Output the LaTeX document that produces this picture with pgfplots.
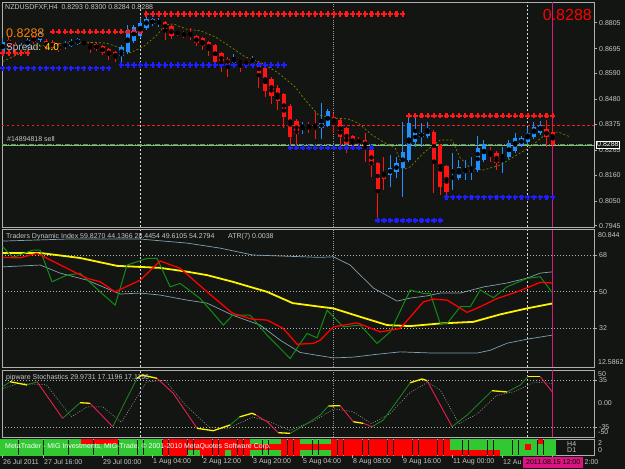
\documentclass[border=0pt]{standalone}
\usepackage{pgfplots}
\pgfplotsset{compat=1.18}
\usepackage{pgfplotstable}
\usepackage{fontspec}
\setmainfont{Liberation Sans}
\definecolor{bg}{RGB}{18,21,17}
\definecolor{txt}{RGB}{200,200,200}
\definecolor{frame}{RGB}{175,175,175}
\definecolor{bull}{RGB}{30,144,255}
\definecolor{bear}{RGB}{255,20,20}
\definecolor{band}{RGB}{130,160,175}
\definecolor{tdigreen}{RGB}{20,140,20}
\definecolor{stgreen}{RGB}{30,125,30}
\definecolor{stred}{RGB}{235,30,75}
\definecolor{olivec}{RGB}{128,128,0}
\definecolor{magline}{RGB}{220,20,130}
\definecolor{stripgreen}{RGB}{50,200,50}
\definecolor{stripred}{RGB}{255,0,0}
\definecolor{dotred}{RGB}{255,25,25}
\definecolor{dotblue}{RGB}{30,30,255}
\definecolor{ordgreen}{RGB}{40,190,40}
\newcommand{\fs}{\fontsize{7}{8}\selectfont}

\pgfplotstableread{
i o h l c
0 0.8681 0.8740 0.8672 0.8723
3 0.8693 0.8719 0.8685 0.8710
4 0.8710 0.8740 0.8702 0.8732
6 0.8732 0.8770 0.8723 0.8761
10 0.8702 0.8727 0.8693 0.8719
11 0.8706 0.8736 0.8702 0.8727
12 0.8715 0.8740 0.8710 0.8736
19 0.8664 0.8710 0.8634 0.8702
20 0.8681 0.8795 0.8672 0.8774
21 0.8727 0.8795 0.8719 0.8787
22 0.8749 0.8825 0.8740 0.8804
23 0.8783 0.8838 0.8774 0.8821
24 0.8800 0.8825 0.8791 0.8819
25 0.8804 0.8825 0.8787 0.8812
37 0.8634 0.8672 0.8630 0.8655
40 0.8634 0.8664 0.8630 0.8651
48 0.8359 0.8384 0.8333 0.8371
51 0.8359 0.8465 0.8312 0.8380
52 0.8367 0.8439 0.8363 0.8431
62 0.8160 0.8244 0.8109 0.8189
63 0.8172 0.8236 0.8147 0.8211
64 0.8189 0.8384 0.8066 0.8257
65 0.8223 0.8405 0.8215 0.8380
66 0.8300 0.8414 0.8278 0.8342
67 0.8321 0.8380 0.8278 0.8338
68 0.8325 0.8384 0.8317 0.8359
72 0.8143 0.8253 0.8096 0.8155
73 0.8147 0.8223 0.8139 0.8194
74 0.8168 0.8223 0.8139 0.8185
75 0.8172 0.8236 0.8139 0.8185
76 0.8181 0.8325 0.8172 0.8274
77 0.8223 0.8308 0.8215 0.8291
80 0.8236 0.8278 0.8168 0.8244
81 0.8236 0.8308 0.8228 0.8295
82 0.8261 0.8338 0.8253 0.8317
83 0.8287 0.8325 0.8278 0.8317
84 0.8300 0.8363 0.8291 0.8338
85 0.8321 0.8384 0.8312 0.8363
86 0.8338 0.8388 0.8329 0.8371
}\bulltab

\pgfplotstableread{
i o h l c
1 0.8732 0.8744 0.8698 0.8706
2 0.8715 0.8723 0.8681 0.8693
5 0.8744 0.8753 0.8715 0.8723
7 0.8727 0.8736 0.8689 0.8702
8 0.8723 0.8732 0.8689 0.8698
9 0.8710 0.8719 0.8681 0.8689
13 0.8723 0.8727 0.8710 0.8715
14 0.8719 0.8723 0.8677 0.8702
15 0.8715 0.8719 0.8685 0.8693
16 0.8706 0.8710 0.8668 0.8677
17 0.8693 0.8698 0.8647 0.8664
18 0.8681 0.8685 0.8638 0.8655
26 0.8808 0.8812 0.8732 0.8774
27 0.8791 0.8795 0.8736 0.8749
28 0.8770 0.8774 0.8749 0.8757
29 0.8766 0.8770 0.8740 0.8749
30 0.8761 0.8783 0.8732 0.8744
31 0.8749 0.8753 0.8706 0.8719
32 0.8740 0.8744 0.8689 0.8706
33 0.8723 0.8727 0.8664 0.8689
34 0.8710 0.8715 0.8630 0.8638
35 0.8677 0.8681 0.8596 0.8634
36 0.8651 0.8660 0.8575 0.8630
38 0.8647 0.8651 0.8596 0.8634
39 0.8643 0.8647 0.8626 0.8630
41 0.8634 0.8638 0.8528 0.8584
42 0.8613 0.8617 0.8491 0.8516
43 0.8567 0.8575 0.8461 0.8495
44 0.8528 0.8541 0.8435 0.8473
45 0.8503 0.8507 0.8359 0.8405
46 0.8452 0.8461 0.8287 0.8321
47 0.8388 0.8397 0.8287 0.8333
49 0.8376 0.8384 0.8338 0.8359
50 0.8367 0.8427 0.8312 0.8355
53 0.8405 0.8422 0.8338 0.8380
54 0.8393 0.8397 0.8283 0.8321
55 0.8359 0.8363 0.8253 0.8291
56 0.8325 0.8329 0.8266 0.8287
57 0.8312 0.8321 0.8287 0.8295
58 0.8308 0.8338 0.8215 0.8278
59 0.8266 0.8270 0.8151 0.8202
60 0.8211 0.8215 0.7969 0.8100
61 0.8172 0.8236 0.8096 0.8143
69 0.8342 0.8350 0.8083 0.8223
70 0.8287 0.8291 0.8075 0.8109
71 0.8198 0.8202 0.8062 0.8088
78 0.8257 0.8278 0.8215 0.8253
79 0.8253 0.8261 0.8181 0.8211
87 0.8355 0.8393 0.8278 0.8321
88 0.8342 0.8371 0.8278 0.8288
}\beartab

\pgfplotstableread{
i a b c
0 0 0 0
1 0 0 0
2 0 0 0
3 0 0 0
4 0 0 0
5 0 0 0
6 0 0 0
7 0 0 0
8 0 0 0
9 0 0 0
10 0 0 0
11 0 0 0
12 0 0 0
13 1 0 0
14 1 0 0
15 1 0 0
16 1 0 0
17 1 0 0
18 1 0 0
19 0 0 0
20 0 0 0
21 0 0 0
22 0 0 0
23 0 0 0
24 0 0 0
25 0 0 0
26 1 1 1
27 1 1 1
28 1 1 1
29 1 1 1
30 1 1 0
31 1 1 0
32 1 1 1
33 1 1 1
34 1 1 1
35 1 1 1
36 1 1 0
37 1 1 1
38 1 1 1
39 1 1 1
40 0 1 0
41 0 1 0
42 0 1 0
43 0 1 0
44 0 1 0
45 1 1 1
46 1 1 1
47 1 1 1
48 0 1 0
49 0 1 0
50 0 1 0
51 0 1 0
52 0 1 0
53 1 1 1
54 1 1 1
55 1 1 1
56 1 1 1
57 1 1 1
58 1 1 1
59 1 1 1
60 1 1 1
61 1 1 1
62 1 1 1
63 1 1 1
64 1 1 1
65 1 1 1
66 1 1 1
67 1 1 1
68 1 1 1
69 1 1 1
70 1 1 1
71 1 1 1
72 0 0 1
73 0 0 1
74 0 0 1
75 0 0 1
76 0 0 1
77 0 0 1
78 0 0 1
79 0 0 1
80 0 0 0
81 0 0 0
82 0 0 0
83 0 0 0
84 0 1 0
85 0 0 0
86 1 0 0
87 0 0 0
88 0 0 0
}\striptab

\pgfplotsset{
  mt/.style={scale only axis, width=592pt, xmin=-0.1, xmax=94.6,
    anchor=north west, axis line style={frame, line width=0.7pt},
    xtick=\empty, ytick pos=right, yticklabel pos=right,
    tick align=outside, major tick length=3pt, tick style={frame, line width=0.5pt},
    yticklabel style={font=\fs, text=txt, inner sep=1pt, xshift=1pt}},
  candle/.style={only marks, mark=none, error bars/.cd, y dir=both, y explicit, error mark=none},
  rowmark/.style={only marks, mark=+, mark size=2.6pt, line width=2.1pt},
  stripmark/.style={scatter, only marks, mark=square*, mark size=2.45pt, point meta=explicit,
    scatter/use mapped color={draw=mapped color, fill=mapped color}}
}
\newcommand{\seps}{%
  \draw[white!85!black, dash pattern=on 2pt off 2pt, line width=0.6pt] ({axis cs:22,0}|-{rel axis cs:0,0}) -- ({axis cs:22,0}|-{rel axis cs:0,1});
  \draw[gray!80!white, dash pattern=on 1pt off 1.2pt, line width=0.9pt] ({axis cs:53,0}|-{rel axis cs:0,0}) -- ({axis cs:53,0}|-{rel axis cs:0,1});
  \draw[white!85!black, dash pattern=on 2pt off 2pt, line width=0.6pt] ({axis cs:84,0}|-{rel axis cs:0,0}) -- ({axis cs:84,0}|-{rel axis cs:0,1});
  \draw[magline, line width=0.8pt] ({axis cs:88,0}|-{rel axis cs:0,0}) -- ({axis cs:88,0}|-{rel axis cs:0,1});
}

\begin{document}
\begin{tikzpicture}
\path[use as bounding box] (0,0) rectangle (625pt,-469pt);
\fill[bg] (0,0) rectangle (625pt,-469pt);

% ---------------- main price panel
\begin{axis}[mt, at={(2pt,-2pt)}, height=225.5pt, ymin=0.79375, ymax=0.88927,
  ytick={0.7945,0.8050,0.8160,0.8265,0.8375,0.8480,0.8590,0.8695,0.8805},
  yticklabels={0.7945,0.8050,0.8160,0.8265,0.8375,0.8480,0.8590,0.8695,0.8805}]
\seps
\draw[dotred, dash pattern=on 2.5pt off 2.5pt, line width=0.6pt] (axis cs:-0.1,0.8371) -- (axis cs:94.6,0.8371);
\draw[gray!70, line width=0.5pt] (axis cs:-0.1,0.8288) -- (axis cs:94.6,0.8288);
\draw[ordgreen, dash pattern=on 5pt off 1.5pt on 1pt off 1.5pt, line width=0.7pt] (axis cs:-0.1,0.8291) -- (axis cs:94.6,0.8291);
% support / resistance dots
\addplot[rowmark, dotred] coordinates {(0,0.8677)(1,0.8677)(2,0.8677)(3,0.8677)(4,0.8677)};
\addplot[rowmark, dotred] coordinates {(8,0.8767)(9,0.8767)(10,0.8767)(11,0.8767)(12,0.8767)(13,0.8767)(14,0.8767)(15,0.8767)(16,0.8767)(17,0.8767)(18,0.8767)(19,0.8767)(20,0.8767)(21,0.8767)(22,0.8767)};
\addplot[rowmark, dotred] coordinates {(23,0.8842)(24,0.8842)(25,0.8842)(26,0.8842)(27,0.8842)(28,0.8842)(29,0.8842)(30,0.8842)(31,0.8842)(32,0.8842)(33,0.8842)(34,0.8842)(35,0.8842)(36,0.8842)(37,0.8842)(38,0.8842)(39,0.8842)(40,0.8842)(41,0.8842)(42,0.8842)(43,0.8842)(44,0.8842)(45,0.8842)(46,0.8842)(47,0.8842)(48,0.8842)(49,0.8842)(50,0.8842)(51,0.8842)(52,0.8842)(53,0.8842)(54,0.8842)(55,0.8842)(56,0.8842)(57,0.8842)(58,0.8842)(59,0.8842)(60,0.8842)(61,0.8842)(62,0.8842)(63,0.8842)(64,0.8842)};
\addplot[rowmark, dotred] coordinates {(65,0.8411)(66,0.8411)(67,0.8411)(68,0.8411)(69,0.8411)(70,0.8411)(71,0.8411)(72,0.8411)(73,0.8411)(74,0.8411)(75,0.8411)(76,0.8411)(77,0.8411)(78,0.8411)(79,0.8411)(80,0.8411)(81,0.8411)(82,0.8411)(83,0.8411)(84,0.8411)(85,0.8411)(86,0.8411)(87,0.8411)(88,0.8411)};
\addplot[rowmark, dotblue] coordinates {(0,0.8612)(1,0.8612)(2,0.8612)(3,0.8612)(4,0.8612)(5,0.8612)(6,0.8612)(7,0.8612)(8,0.8612)(9,0.8612)(10,0.8612)(11,0.8612)(12,0.8612)(13,0.8612)(14,0.8612)(15,0.8612)(16,0.8612)(17,0.8612)};
\addplot[rowmark, dotblue] coordinates {(19,0.8626)(20,0.8626)(21,0.8626)(22,0.8626)(23,0.8626)(24,0.8626)(25,0.8626)(26,0.8626)(27,0.8626)(28,0.8626)(29,0.8626)(30,0.8626)(31,0.8626)(32,0.8626)(33,0.8626)(34,0.8626)(35,0.8626)(36,0.8626)(37,0.8626)(38,0.8626)(39,0.8626)(40,0.8626)(41,0.8626)(42,0.8626)(43,0.8626)(44,0.8626)(45,0.8626)};
\addplot[rowmark, dotblue] coordinates {(46,0.8275)(47,0.8275)(48,0.8275)(49,0.8275)(50,0.8275)(51,0.8275)(52,0.8275)(53,0.8275)(54,0.8275)(55,0.8275)(56,0.8275)(57,0.8275)(58,0.8275)(59,0.8275)};
\addplot[rowmark, dotblue] coordinates {(60,0.7967)(61,0.7967)(62,0.7967)(63,0.7967)(64,0.7967)(65,0.7967)(66,0.7967)(67,0.7967)(68,0.7967)(69,0.7967)(70,0.7967)};
\addplot[rowmark, dotblue] coordinates {(71,0.8065)(72,0.8065)(73,0.8065)(74,0.8065)(75,0.8065)(76,0.8065)(77,0.8065)(78,0.8065)(79,0.8065)(80,0.8065)(81,0.8065)(82,0.8065)(83,0.8065)(84,0.8065)(85,0.8065)(86,0.8065)(87,0.8065)(88,0.8065)};
% moving average (olive dashed)
\addplot[olivec, dash pattern=on 2pt off 2pt, line width=0.7pt, mark=none] coordinates {
(0,0.8640)(2.2,0.8668)(4.85,0.8698)(7.6,0.8715)(12.9,0.8723)(16.5,0.8719)(19.5,0.8693)(20.4,0.8678)(22.5,0.8703)(24.7,0.8753)(26,0.8795)(27.3,0.8800)(29.5,0.8777)(31.6,0.8771)(34,0.8745)(36,0.8711)(38.8,0.8660)(41.5,0.8634)(44.1,0.8592)(46.8,0.8533)(48.4,0.8478)(50.5,0.8414)(53.2,0.8401)(55.3,0.8397)(56.9,0.8380)(59.1,0.8329)(61.2,0.8295)(62.8,0.8274)(64.2,0.8185)(65.2,0.8194)(67.3,0.8253)(70,0.8308)(71.9,0.8308)(73.2,0.8232)(74.8,0.8190)(76.9,0.8181)(79.6,0.8202)(81.7,0.8236)(84.4,0.8278)(87.1,0.8338)(88.9,0.8342)(90.8,0.8321)};
% candles: wicks then bodies
\addplot[candle, error bar style={draw=bull, line width=1pt}]
  table[x=i, y expr={(\thisrow{h}+\thisrow{l})/2}, y error expr={(\thisrow{h}-\thisrow{l})/2}] {\bulltab};
\addplot[candle, error bar style={draw=bear, line width=1pt}]
  table[x=i, y expr={(\thisrow{h}+\thisrow{l})/2}, y error expr={(\thisrow{h}-\thisrow{l})/2}] {\beartab};
\addplot[candle, error bar style={draw=bull, line width=4.2pt}]
  table[x=i, y expr={(\thisrow{o}+\thisrow{c})/2}, y error expr={(\thisrow{c}-\thisrow{o})/2+0.00012}] {\bulltab};
\addplot[candle, error bar style={draw=bear, line width=4.2pt}]
  table[x=i, y expr={(\thisrow{o}+\thisrow{c})/2}, y error expr={(\thisrow{o}-\thisrow{c})/2+0.00012}] {\beartab};
\end{axis}

% ---------------- Traders Dynamic Index
\begin{axis}[mt, at={(2pt,-229.5pt)}, height=137.5pt, ymin=12.5862, ymax=80.844,
  ytick={32,50,68}, yticklabels={32,50,68},
  ymajorgrids, grid style={gray!60, dash pattern=on 1pt off 2pt, line width=0.5pt}]
\seps
\addplot[band, line width=0.7pt, mark=none] coordinates {(0,75.1)(10.3,76.1)(22,76.1)(29.5,74.1)(34.8,71.6)(40,68.2)(44.4,67.7)(50.8,67.0)(52.9,67.3)(55.6,63.2)(59.3,51.8)(63.1,45.3)(65.2,46.8)(67.9,47.9)(70,49.3)(73.2,49.3)(76.9,52.3)(80.7,54.3)(83.9,56.7)(86,59.2)(87.9,59.8)};
\addplot[band, line width=0.7pt, mark=none] coordinates {(0,62.3)(6,63.2)(9.2,59.2)(13.5,55.7)(18.8,48.8)(22,49.3)(25.2,48.3)(29.5,45.8)(32.7,44.3)(36.8,38.3)(41.2,33.4)(44.4,25.9)(47.6,19.8)(52.9,17.1)(56.1,17.5)(59.9,18.9)(63.6,20.1)(68.9,19.5)(75.9,19.5)(78,20.9)(80.7,24.4)(83.9,26.4)(87.9,28.4)};
\addplot[yellow, line width=1.8pt, mark=none] coordinates {(0,69.2)(6,69.2)(12.4,66.7)(18.3,62.8)(25.2,61.8)(29.5,59.9)(32.7,58.2)(36.8,54.9)(42.3,49.9)(46.4,44.3)(50.8,42.5)(52.9,41.7)(57.2,37.5)(61.5,33.4)(65.2,32.9)(70,34.2)(75.3,35.0)(79.6,38.7)(83.9,41.7)(87.9,44.1)};
\addplot[tdigreen, line width=1pt, mark=none] coordinates {(0,72.3)(1.65,67.0)(4.85,70.6)(6,70.6)(7.9,54.9)(10.3,58.2)(12.4,59.1)(15.6,49.9)(18,43.3)(19.9,63.2)(23.1,66.5)(24.7,66.5)(26.8,52.4)(28.4,54.1)(31.6,46.6)(33.7,39.2)(35.3,33.4)(36.8,38.3)(39.6,38.3)(42.3,28.4)(46,16.8)(47.6,24.3)(48.7,29.2)(50.3,27.1)(51.9,40.8)(54.5,32.5)(57.2,33.4)(59.9,24.3)(62,30.0)(65.2,50.8)(67.3,49.1)(68.4,49.1)(70,34.2)(71.1,34.2)(73.2,42.5)(74.8,42.5)(76.4,50.8)(78.5,47.0)(80.7,52.4)(83.9,56.6)(86,57.4)(87.9,49.6)};
\addplot[red, line width=1.3pt, mark=none] coordinates {(0,67.0)(2.8,66.8)(5.5,69.0)(10.3,61.6)(13.5,56.6)(15.6,54.9)(18,49.9)(22,55.7)(25.2,65.2)(28.4,61.6)(32.7,49.9)(36.8,39.2)(40,36.3)(42.3,35.9)(44.9,31.7)(47.1,23.9)(49.7,24.3)(50.8,25.9)(52.9,32.5)(56.7,34.5)(60.4,30.0)(63.6,31.7)(67.3,44.9)(68.9,46.3)(71.1,45.8)(74.3,39.7)(76.4,42.5)(79.1,46.6)(82.3,49.9)(86,54.6)(87.9,54.3)};
\end{axis}

% ---------------- Stochastics
\begin{axis}[mt, at={(2pt,-370pt)}, height=67pt, ymin=-50, ymax=50,
  ytick={-35,35}, yticklabels={-35,35},
  ymajorgrids, grid style={gray!60, dash pattern=on 1pt off 2pt, line width=0.5pt}]
\seps
\addplot[gray!70, dash pattern=on 1pt off 1.5pt, line width=0.5pt, mark=none] coordinates {(0,22)(2.5,30)(5,29)(7,28)(11,-20)(13.5,-5)(16,-5)(19,-28)(23,32)(26,35)(29,0)(33,-35)(36,-38)(40,-20)(43,-28)(46,-40)(50,-25)(53,-8)(56,-12)(59,-30)(62,-15)(65,15)(68,32)(70,20)(73,-30)(76,-15)(79,12)(82,18)(85,32)(87.9,30)};
\addplot[stgreen, line width=0.9pt, mark=none] coordinates {(0,25.1)(1.2,32.5)};
\addplot[stgreen, line width=0.9pt, mark=none] coordinates {(3.9,27.6)(5.5,32.5)};
\addplot[stgreen, line width=0.9pt, mark=none] coordinates {(9.6,-22.1)(12.4,1.2)};
\addplot[stgreen, line width=0.9pt, mark=none] coordinates {(17.6,-34.6)(21.5,37.6)};
\addplot[stgreen, line width=0.9pt, mark=none] coordinates {(36.4,-32.1)(37.9,-20)};
\addplot[stgreen, line width=0.9pt, mark=none] coordinates {(46,-44.5)(49.2,-27.2)(50.8,-17.2)(52.1,-3.7)};
\addplot[stgreen, line width=0.9pt, mark=none] coordinates {(59.1,-34.6)(60.9,-24.6)(63.6,10.1)(65.2,31.0)};
\addplot[stgreen, line width=0.9pt, mark=none] coordinates {(71.9,-34.6)(74.3,-17.2)(78.3,19.1)};
\addplot[stgreen, line width=0.9pt, mark=none] coordinates {(80.7,17.2)(82.8,27.6)(84,40)};
\addplot[stred, line width=0.9pt, mark=none] coordinates {(5.5,32.5)(9.6,-22.1)};
\addplot[stred, line width=0.9pt, mark=none] coordinates {(14,0.3)(17.6,-34.6)};
\addplot[stred, line width=0.9pt, mark=none] coordinates {(24.7,37.6)(27.3,15.2)(31.1,-37.0)};
\addplot[stred, line width=0.9pt, mark=none] coordinates {(40.5,-17)(42.3,-27.2)(44.1,-43.6)};
\addplot[stred, line width=0.9pt, mark=none] coordinates {(54,-3.3)(56.1,-27.2)};
\addplot[stred, line width=0.9pt, mark=none] coordinates {(57.7,-29.6)(59.1,-34.6)};
\addplot[stred, line width=0.9pt, mark=none] coordinates {(67.9,34.0)(71.9,-34.6)};
\addplot[stred, line width=0.9pt, mark=none] coordinates {(86,40)(87.9,17.6)};
\addplot[yellow, line width=1.3pt, mark=none] coordinates {(1.2,32.5)(3.9,27.6)};
\addplot[yellow, line width=1.3pt, mark=none] coordinates {(12.4,1.2)(14,0.3)};
\addplot[yellow, line width=1.3pt, mark=none] coordinates {(21.5,37.6)(22.3,42.5)(24.7,37.6)};
\addplot[yellow, line width=1.3pt, mark=none] coordinates {(31.1,-37.0)(33.7,-40.6)(36.4,-32.1)};
\addplot[yellow, line width=1.3pt, mark=none] coordinates {(37.9,-20)(39.9,-14.6)(40.5,-17)};
\addplot[yellow, line width=1.3pt, mark=none] coordinates {(44.1,-43.6)(46,-44.5)};
\addplot[yellow, line width=1.3pt, mark=none] coordinates {(52.1,-3.7)(54,-3.3)};
\addplot[yellow, line width=1.3pt, mark=none] coordinates {(56.1,-27.2)(57.7,-29.6)};
\addplot[yellow, line width=1.3pt, mark=none] coordinates {(65.2,31.0)(67.1,36.6)(67.9,34.0)};
\addplot[yellow, line width=1.3pt, mark=none] coordinates {(78.3,19.1)(80.7,17.2)};
\addplot[yellow, line width=1.3pt, mark=none] coordinates {(84,40)(86,40)};
\end{axis}

% ---------------- trend strip
\begin{axis}[mt, at={(2pt,-439pt)}, height=16pt, ymin=0, ymax=3, ytick=\empty,
  colormap={rg}{color(0)=(stripgreen) color(1)=(stripred)}, point meta min=0, point meta max=1]
\addplot[stripmark] table[x=i, y expr=2.5, meta=a] {\striptab};
\addplot[stripmark] table[x=i, y expr=1.5, meta=b] {\striptab};
\addplot[stripmark] table[x=i, y expr=0.5, meta=c] {\striptab};
\seps
\end{axis}

% ---------------- texts
\node[anchor=west, text=txt, font=\fs, inner sep=0pt] at (5pt,-7.5pt) {NZDUSDFXF,H4\ \ 0.8293 0.8300 0.8284 0.8288};
\node[anchor=west, text=orange, font=\fontsize{12.5}{13}\selectfont, inner sep=0pt] at (6pt,-33.5pt) {0.8288};
\node[anchor=west, font=\fontsize{10}{11}\selectfont, inner sep=0pt] at (6pt,-48pt) {\textcolor{txt}{Spread}\textcolor{yellow}{ : 4.0}};
\node[anchor=east, text=red, font=\fontsize{16}{17}\selectfont, inner sep=0pt] at (592pt,-15pt) {0.8288};
\node[anchor=west, text=txt, font=\fs, inner sep=0pt] at (7pt,-139pt) {\#14894818 sell};
\node[anchor=west, text=white, font=\fs, draw=white, fill=bg, inner sep=1pt] at (596pt,-144.5pt) {0.8288};
\node[anchor=west, text=txt, font=\fs, inner sep=0pt] at (6pt,-237pt) {Traders Dynamic Index 59.8270 44.1366 28.4454 49.6105 54.2794};
\node[anchor=west, text=txt, font=\fs, inner sep=0pt] at (228pt,-237pt) {ATR(7) 0.0038};
\node[anchor=west, text=txt, font=\fs, inner sep=0pt] at (598pt,-235pt) {80.844};
\node[anchor=west, text=txt, font=\fs, inner sep=0pt] at (598pt,-362pt) {12.5862};
\node[anchor=west, text=txt, font=\fs, inner sep=0pt] at (6pt,-377.5pt) {pipware Stochastics 29.9731 17.1196 17.1196};
\node[anchor=west, text=txt, font=\fs, inner sep=0pt] at (598pt,-374.5pt) {50};
\node[anchor=west, text=txt, font=\fs, inner sep=0pt] at (598pt,-403.5pt) {0.00};
\node[anchor=west, text=txt, font=\fs, inner sep=0pt] at (598pt,-432.5pt) {-50};
\node[anchor=west, text=txt, font=\fs, inner sep=0pt] at (598pt,-443pt) {2};
\node[anchor=west, text=txt, font=\fs, inner sep=0pt] at (598pt,-450pt) {0};
\node[anchor=west, text=txt, font=\fs, inner sep=0pt] at (567pt,-444.5pt) {H4};
\node[anchor=west, text=txt, font=\fs, inner sep=0pt] at (567pt,-450.5pt) {D1};
\node[anchor=west, text=white, font=\fs, inner sep=0pt] at (5pt,-447pt) {MetaTrader - MIG Investments, MIG-Trade, \textcopyright{} 2001-2010 MetaQuotes Software Corp.};
% date axis
\foreach \x/\t in {2/26 Jul 2011,43/27 Jul 16:00,102/29 Jul 00:00,152/1 Aug 04:00,202/2 Aug 12:00,252/3 Aug 20:00,302/5 Aug 04:00,352/8 Aug 08:00,402/9 Aug 16:00,452/11 Aug 00:00,502/12 Au}{
  \draw[frame, line width=0.5pt] (\x pt,-455pt) -- (\x pt,-458pt);
  \node[anchor=west, text=txt, font=\fs, inner sep=0pt] at (\x pt + 1pt,-462pt) {\t};
}
\draw[frame, line width=0.5pt] (552pt,-455pt) -- (552pt,-458pt);
\node[anchor=west, text=txt, font=\fs, inner sep=0pt] at (584.5pt,-462pt) {2:00};
\node[anchor=west, fill=magline, text=black, font=\fs, inner sep=1.2pt, minimum width=60pt, minimum height=11pt] at (523pt,-462pt) {2011.08.15 12:00};
\end{tikzpicture}
\end{document}
